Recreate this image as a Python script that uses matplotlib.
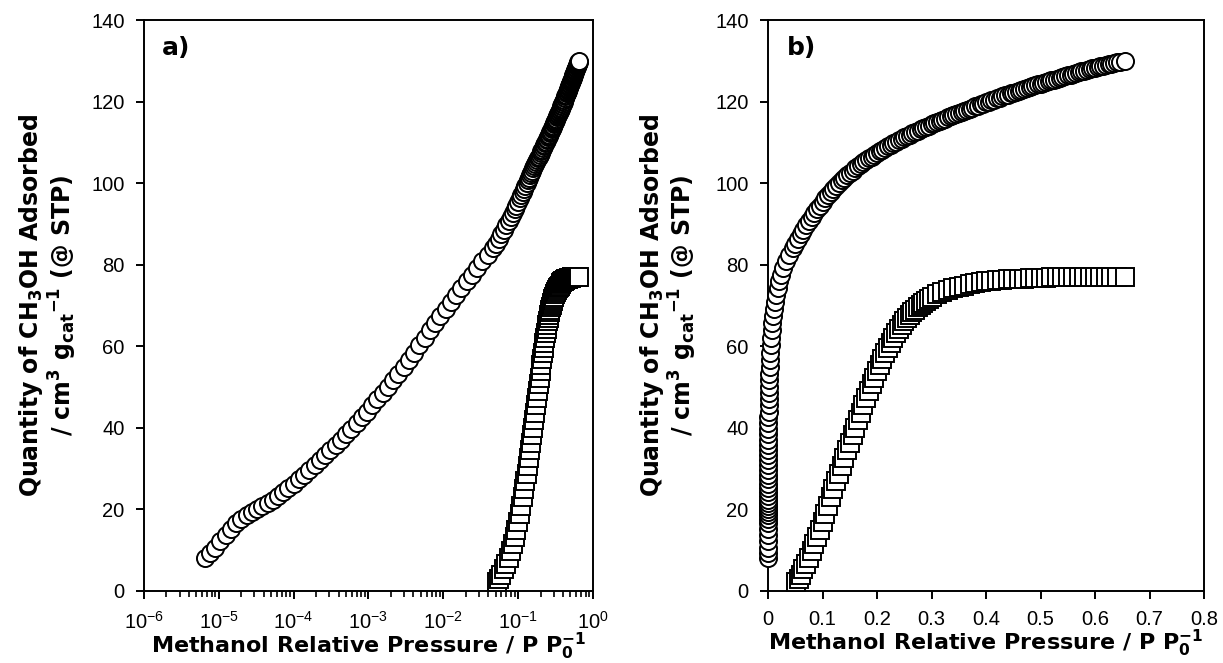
import matplotlib
matplotlib.use("Agg")
import matplotlib.pyplot as plt
from matplotlib.ticker import LogLocator, FixedLocator, FixedFormatter, NullFormatter

plt.rcParams['font.family'] = ['Liberation Sans', 'DejaVu Sans']
plt.rcParams['mathtext.fontset'] = 'custom'
plt.rcParams['mathtext.rm'] = 'Liberation Sans'
plt.rcParams['mathtext.it'] = 'Liberation Sans:italic'
plt.rcParams['mathtext.bf'] = 'Liberation Sans:bold'
plt.rcParams['mathtext.default'] = 'regular'

# Methanol uptake (circles): relative pressure and adsorbed quantity
circle_p = [
    6.5e-6, 7.6e-6, 8.9e-6, 1.05e-5, 1.23e-5, 1.45e-5, 1.7e-5, 2.0e-5, 2.35e-5, 2.76e-5,
    3.24e-5, 3.81e-5, 4.48e-5, 5.26e-5, 6.18e-5, 7.26e-5, 8.53e-5, 1.0e-4, 1.18e-4, 1.38e-4,
    1.63e-4, 1.91e-4, 2.24e-4, 2.64e-4, 3.1e-4, 3.64e-4, 4.28e-4, 5.03e-4, 5.91e-4, 6.94e-4,
    8.16e-4, 9.58e-4, 1.13e-3, 1.32e-3, 1.55e-3, 1.83e-3, 2.15e-3, 2.52e-3, 2.96e-3, 3.48e-3,
    4.09e-3, 4.81e-3, 5.65e-3, 6.64e-3, 7.8e-3, 9.16e-3, 1.08e-2, 1.26e-2, 1.49e-2, 1.75e-2,
    2.05e-2, 2.41e-2, 2.83e-2, 3.33e-2, 3.91e-2, 4.6e-2,
    0.050, 0.055, 0.060, 0.065, 0.070, 0.075, 0.080, 0.085, 0.090, 0.095,
    0.100, 0.105, 0.110, 0.115, 0.120, 0.125, 0.130, 0.135, 0.140, 0.145,
    0.150, 0.155, 0.160, 0.165, 0.170, 0.175, 0.180, 0.185, 0.190, 0.195,
    0.200, 0.205, 0.210, 0.215, 0.220, 0.225, 0.230, 0.235, 0.240, 0.245,
    0.250, 0.255, 0.260, 0.265, 0.270, 0.275, 0.280, 0.285, 0.290, 0.295,
    0.300, 0.305, 0.310, 0.315, 0.320, 0.325, 0.330, 0.335, 0.340, 0.345,
    0.350, 0.355, 0.360, 0.365, 0.370, 0.375, 0.380, 0.385, 0.390, 0.395,
    0.400, 0.405, 0.410, 0.415, 0.420, 0.425, 0.430, 0.435, 0.440, 0.445,
    0.450, 0.455, 0.460, 0.465, 0.470, 0.475, 0.480, 0.485, 0.490, 0.495,
    0.500, 0.505, 0.510, 0.515, 0.520, 0.525, 0.530, 0.535, 0.540, 0.545,
    0.550, 0.555, 0.560, 0.565, 0.570, 0.575, 0.580, 0.585, 0.590, 0.595,
    0.600, 0.605, 0.610, 0.615, 0.620, 0.625, 0.630, 0.635, 0.640, 0.645,
    0.655,
]
circle_q = [
    8.2, 9.3, 10.6, 12.2, 13.8, 15.3, 16.6, 17.7, 18.6, 19.4,
    20.1, 20.8, 21.5, 22.3, 23.2, 24.2, 25.2, 26.3, 27.4, 28.5,
    29.7, 30.9, 32.1, 33.3, 34.5, 35.8, 37.1, 38.4, 39.8, 41.2,
    42.6, 44.0, 45.5, 47.0, 48.5, 50.1, 51.7, 53.3, 55.0, 56.7,
    58.4, 60.2, 62.0, 63.9, 65.8, 67.5, 69.2, 70.9, 72.6, 74.3,
    76.0, 77.6, 79.2, 80.8, 82.5, 84.2,
    85.2, 86.4, 87.5, 88.6, 89.7, 90.7, 91.7, 92.7, 93.6, 94.5,
    95.4, 96.3, 97.1, 97.9, 98.6, 99.3, 100.0, 100.7, 101.3, 101.9,
    102.5, 103.1, 103.6, 104.1, 104.6, 105.1, 105.6, 106.1, 106.5, 107.0,
    107.4, 107.8, 108.2, 108.6, 109.0, 109.4, 109.8, 110.2, 110.5, 110.9,
    111.2, 111.6, 111.9, 112.2, 112.5, 112.9, 113.2, 113.5, 113.8, 114.1,
    114.4, 114.7, 115.0, 115.3, 115.6, 115.8, 116.1, 116.4, 116.7, 116.9,
    117.2, 117.5, 117.8, 118.0, 118.3, 118.5, 118.8, 119.0, 119.3, 119.5,
    119.8, 120.0, 120.3, 120.5, 120.8, 121.0, 121.3, 121.5, 121.7, 122.0,
    122.2, 122.4, 122.6, 122.9, 123.1, 123.3, 123.5, 123.8, 124.0, 124.2,
    124.4, 124.6, 124.8, 125.0, 125.2, 125.4, 125.6, 125.8, 126.0, 126.2,
    126.4, 126.6, 126.8, 127.0, 127.2, 127.4, 127.6, 127.8, 128.0, 128.2,
    128.3, 128.5, 128.7, 128.8, 129.0, 129.2, 129.3, 129.5, 129.6, 129.8,
    130.0,
]

# Methanol uptake (squares)
square_p = [
    0.052, 0.056, 0.060, 0.065, 0.070, 0.075, 0.080, 0.085, 0.090,
    0.095, 0.100, 0.105, 0.110, 0.115, 0.120, 0.125, 0.130, 0.135, 0.140,
    0.145, 0.150, 0.155, 0.160, 0.165, 0.170, 0.175, 0.180, 0.185, 0.190,
    0.195, 0.200, 0.205, 0.210, 0.215, 0.220, 0.225, 0.230, 0.235, 0.240,
    0.245, 0.250, 0.255, 0.260, 0.265, 0.270, 0.275, 0.280, 0.285, 0.290,
    0.295, 0.300, 0.31, 0.32, 0.33, 0.34, 0.35, 0.36, 0.37, 0.38,
    0.39, 0.40, 0.41, 0.42, 0.43, 0.44, 0.45, 0.46, 0.47, 0.48,
    0.49, 0.50, 0.51, 0.52, 0.53, 0.54, 0.55, 0.56, 0.57, 0.58,
    0.59, 0.60, 0.61, 0.62, 0.63, 0.64, 0.655,
]
square_q = [
    2.1, 3.0, 4.0, 5.3, 6.7, 8.2, 9.8, 11.5, 13.2,
    15.0, 16.9, 18.9, 20.9, 23.0, 25.1, 27.0, 28.8, 30.7, 32.6,
    34.5, 36.3, 38.2, 40.0, 41.9, 43.7, 45.5, 47.3, 49.0, 50.7,
    52.3, 53.9, 55.4, 56.9, 58.3, 59.6, 60.9, 62.1, 63.2, 64.2,
    65.2, 66.1, 66.9, 67.7, 68.4, 69.0, 69.6, 70.2, 70.7, 71.2,
    71.6, 72.0, 72.7, 73.3, 73.8, 74.2, 74.6, 74.9, 75.2, 75.5,
    75.7, 75.9, 76.1, 76.2, 76.3, 76.4, 76.5, 76.6, 76.6, 76.7,
    76.7, 76.8, 76.8, 76.9, 76.9, 76.9, 76.9, 77.0, 77.0, 77.0,
    77.0, 77.0, 77.0, 77.0, 77.0, 77.0, 77.0,
]

y_ticks = [0, 20, 40, 60, 80, 100, 120, 140]
lin_ticks = [0, 0.1, 0.2, 0.3, 0.4, 0.5, 0.6, 0.7, 0.8]
lin_ticklabels = ['0', '0.1', '0.2', '0.3', '0.4', '0.5', '0.6', '0.7', '0.8']

xlabel = 'Methanol Relative Pressure / P P$_0^{-1}$'
ylabel = 'Quantity of CH$_3$OH Adsorbed\n/ cm$^3$ g$_{cat}$$^{-1}$ (@ STP)'
bold_family = ['DejaVu Sans']

fig = plt.figure(figsize=(12.23, 6.63), dpi=100)
ax_a = fig.add_axes([0.1177, 0.1086, 0.3671, 0.8612])
ax_b = fig.add_axes([0.6280, 0.1086, 0.3565, 0.8612])

mk = dict(linestyle='none', markerfacecolor='white', markeredgecolor='black',
          markeredgewidth=1.4, markersize=12.3, clip_on=False)

for ax in (ax_a, ax_b):
    ax.plot(circle_p, circle_q, marker='o', **mk)
    ax.plot(square_p, square_q, marker='s', **mk)
    ax.set_ylim(0, 140)
    ax.set_yticks(y_ticks)
    for s in ax.spines.values():
        s.set_linewidth(1.4)
        s.set_zorder(1)
    ax.tick_params(direction='out', which='major', length=6, width=1.4,
                   labelsize=14.5, top=False, right=False)
    ax.tick_params(axis='y', pad=8)
    ax.tick_params(axis='x', pad=8)
    ax.set_xlabel(xlabel, fontsize=16, fontweight='bold', family=bold_family,
                  labelpad=-1)
    ax.set_ylabel(ylabel, fontsize=17, fontweight='bold', family=bold_family,
                  linespacing=1.05)

ax_a.set_xscale('log')
ax_a.set_xlim(1e-6, 1)
ax_a.xaxis.set_major_locator(LogLocator(base=10, numticks=10))
ax_a.xaxis.set_minor_locator(LogLocator(base=10, subs=range(2, 10), numticks=20))
ax_a.xaxis.set_minor_formatter(NullFormatter())
ax_a.tick_params(axis='x', which='minor', direction='out', length=4, width=1.2, top=False)

ax_b.set_xlim(0, 0.8)
ax_b.xaxis.set_major_locator(FixedLocator(lin_ticks))
ax_b.xaxis.set_major_formatter(FixedFormatter(lin_ticklabels))

ax_a.yaxis.set_label_coords(-0.145, 0.5)
ax_b.yaxis.set_label_coords(-0.158, 0.5)

ax_a.text(0.040, 0.972, 'a)', transform=ax_a.transAxes, fontsize=18,
          fontweight='bold', family=bold_family, va='top', ha='left')
ax_b.text(0.043, 0.972, 'b)', transform=ax_b.transAxes, fontsize=18,
          fontweight='bold', family=bold_family, va='top', ha='left')

fig.savefig('out.png', dpi=100)
